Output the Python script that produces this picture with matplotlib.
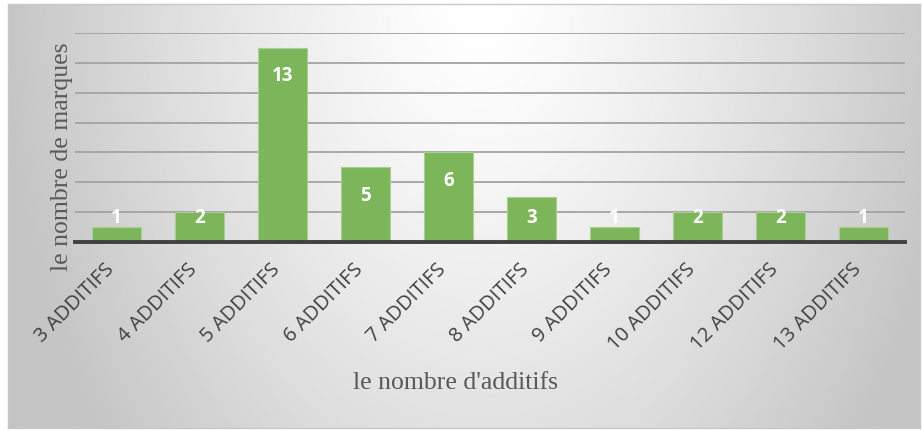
import numpy as np
import matplotlib
matplotlib.use("Agg")
import matplotlib.pyplot as plt
import matplotlib.transforms as mtransforms

# data
categories = ["3 ADDITIFS", "4 ADDITIFS", "5 ADDITIFS", "6 ADDITIFS", "7 ADDITIFS",
              "8 ADDITIFS", "9 ADDITIFS", "10 ADDITIFS", "12 ADDITIFS", "13 ADDITIFS"]
counts = [1, 2, 13, 5, 6, 3, 1, 2, 2, 1]

W, H = 922, 430
fig = plt.figure(figsize=(W / 100, H / 100), dpi=100)
fig.patch.set_facecolor("white")

# gradient background of the chart area
bg = fig.add_axes([8 / W, 2 / H, 912 / W, 424 / H], zorder=0)
xx, yy = np.meshgrid(np.linspace(8, 920, 400), np.linspace(5, 428, 200))
d = np.sqrt(((xx - 480) / 480) ** 2 + ((yy - 0) / 720) ** 2)
t = np.clip(d, 0, 1) ** 1.3
shade = 1.0 - t * (1.0 - 0.77)
bg.imshow(shade, cmap="gray", vmin=0, vmax=1, aspect="auto", extent=[0, 1, 0, 1])
bg.set_xticks([])
bg.set_yticks([])
for s in bg.spines.values():
    s.set_color("#c8c8c8")
    s.set_linewidth(1)

# main axes
ax = fig.add_axes([75 / W, 1 - 242 / H, 830 / W, 209 / H], zorder=1)
ax.set_facecolor("none")
x = np.arange(len(categories))
ax.bar(x, counts, width=0.6, color="#7db55b", edgecolor="#a9cf93", linewidth=0.8, zorder=2)

ax.set_xlim(-0.5, len(categories) - 0.5)
ax.set_ylim(0, 14)
ax.set_yticks(np.arange(0, 15, 2))
ax.set_yticklabels([])
ax.tick_params(axis="y", length=0)
ax.tick_params(axis="x", length=0, pad=18)
ax.grid(axis="y", color="#a3a3a3", linewidth=1.3, zorder=1)
ax.set_axisbelow(True)
for side in ["top", "right", "left"]:
    ax.spines[side].set_visible(False)
ax.spines["bottom"].set_color("#404040")
ax.spines["bottom"].set_linewidth(2.8)
ax.spines["bottom"].set_zorder(3)

ax.set_xticks(x)
ax.set_xticklabels(categories, rotation=45, ha="right", va="center",
                   rotation_mode="anchor", fontsize=14.5, color="#404040",
                   family="Open Sans")
shift = mtransforms.ScaledTranslation(-5 / 100, 0, fig.dpi_scale_trans)
for lbl in ax.get_xticklabels():
    lbl.set_transform(lbl.get_transform() + shift)

# value labels
for xi, v in zip(x, counts):
    ypos = max(v - 1.9, 1.6)
    ax.text(xi, ypos, str(v), ha="center", va="center", color="white",
            fontsize=13.5, fontweight="bold", family="Open Sans", zorder=4)

fig.text(62 / W, 1 - 157 / H, "le nombre de marques", rotation=90, ha="center", va="center",
         fontsize=18.5, family="Liberation Serif", color="#595959")
fig.text(455 / W, 1 - 383 / H, "le nombre d'additifs", ha="center", va="center",
         fontsize=18.5, family="Liberation Serif", color="#595959")

fig.savefig("out.png", dpi=100)
